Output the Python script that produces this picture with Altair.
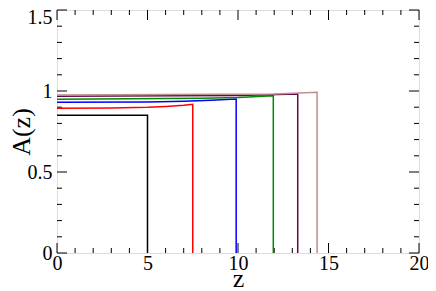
import altair as alt
import pandas as pd

# Series: (name, color, z-values, A-values)
names = ["s1", "s2", "s3", "s4", "s5", "s6"]
colors = ["#000000", "#ff0000", "#0000ff", "#008b00", "#670748", "#bc8f8f"]
z_black = [0.0, 5.0, 5.0]
A_black = [0.85, 0.85, 0.0]
z_red = [0.0, 3.0, 5.0, 6.0, 7.0, 7.5, 7.5]
A_red = [0.894, 0.895, 0.899, 0.905, 0.912, 0.918, 0.0]
z_blue = [0.0, 5.0, 7.0, 8.5, 9.9, 9.9]
A_blue = [0.930, 0.932, 0.937, 0.943, 0.951, 0.0]
z_green = [0.0, 8.0, 10.0, 11.95, 11.95]
A_green = [0.949, 0.955, 0.960, 0.971, 0.0]
z_purple = [0.0, 10.0, 13.3, 13.3]
A_purple = [0.967, 0.972, 0.981, 0.0]
z_brown = [0.0, 12.0, 14.37, 14.37]
A_brown = [0.975, 0.982, 0.992, 0.0]

zs = [z_black, z_red, z_blue, z_green, z_purple, z_brown]
As = [A_black, A_red, A_blue, A_green, A_purple, A_brown]

x_major = [0, 5, 10, 15, 20]
x_minor = [v for v in range(0, 21) if v % 5 != 0]
y_major = [0.0, 0.5, 1.0, 1.5]
y_minor = [0.1, 0.2, 0.3, 0.4, 0.6, 0.7, 0.8, 0.9, 1.1, 1.2, 1.3, 1.4]

rows = []
for n, zz, aa in zip(names, zs, As):
    for i, (z, a) in enumerate(zip(zz, aa)):
        rows.append({"series": n, "z": z, "A": a, "i": i})
df = pd.DataFrame(rows)

W, H = 362, 243
FONT = "Liberation Serif"

xscale = alt.Scale(domain=[0, 20], nice=False, zero=False)
yscale = alt.Scale(domain=[0, 1.5], nice=False, zero=False)

lines = alt.Chart(df).mark_line(strokeWidth=1.5, clip=True).encode(
    x=alt.X("z:Q", scale=xscale, title="z",
            axis=alt.Axis(values=x_major, domain=False, ticks=False, grid=False,
                          labelFont=FONT, labelFontSize=20, labelPadding=0,
                          labelColor="black", titleFont=FONT, titleFontSize=26,
                          titleFontWeight="normal", titleColor="black",
                          titleY=33, titleBaseline="alphabetic",
                          labelFlush=False)),
    y=alt.Y("A:Q", scale=yscale, title="A(z)",
            axis=alt.Axis(values=y_major, domain=False, ticks=False, grid=False,
                          labelFont=FONT, labelFontSize=20, labelPadding=5,
                          labelColor="black", titleFont=FONT, titleFontSize=26,
                          titleFontWeight="normal", titleColor="black",
                          titleX=-28, titleY=H / 2, titleAngle=270,
                          titleBaseline="alphabetic", titleAlign="center",
                          labelOffset={"condition": {"test": "datum.value == 1.5", "value": 7}, "value": 0},
                          labelExpr="datum.value == 0 ? '0' : datum.value == 1 ? '1' : format(datum.value, '.1f')",
                          labelFlush=False)),
    color=alt.Color("series:N", scale=alt.Scale(domain=names, range=colors), legend=None),
    order="i:Q",
)

def xticks(vals, length):
    d = pd.DataFrame({"z": vals})
    base = alt.Chart(d).mark_rule(color="black", strokeWidth=1)
    bottom = base.encode(x=alt.X("z:Q", scale=xscale), y=alt.value(H), y2=alt.value(H - length))
    top = base.encode(x=alt.X("z:Q", scale=xscale), y=alt.value(0), y2=alt.value(length))
    return [bottom, top]

def yticks(vals, length):
    d = pd.DataFrame({"A": vals})
    base = alt.Chart(d).mark_rule(color="black", strokeWidth=1)
    left = base.encode(y=alt.Y("A:Q", scale=yscale), x=alt.value(0), x2=alt.value(length))
    right = base.encode(y=alt.Y("A:Q", scale=yscale), x=alt.value(W), x2=alt.value(W - length))
    return [left, right]

layers = xticks(x_major, 10) + xticks(x_minor, 5) + yticks(y_major, 10) + yticks(y_minor, 5) + [lines]

chart = alt.layer(*layers).properties(
    width=W, height=H,
    autosize=alt.AutoSizeParams(type="none"),
    padding={"left": 49, "top": 2, "right": 9, "bottom": 38},
).configure_view(stroke="black", strokeWidth=1.5).configure(background="white")

chart.save("out.html", embed_options={"renderer": "svg", "actions": False})
